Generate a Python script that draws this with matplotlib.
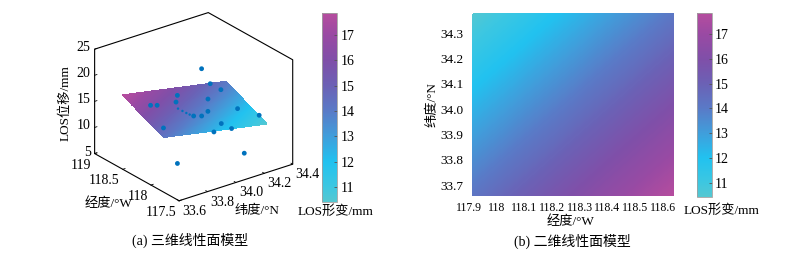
import numpy as np
import matplotlib
matplotlib.use('Agg')
import matplotlib.pyplot as plt
import matplotlib.transforms as mtransforms
from matplotlib.colors import LinearSegmentedColormap, Normalize
from matplotlib.cm import ScalarMappable
from mpl_toolkits.mplot3d import proj3d

plt.rcParams['font.family'] = ['Liberation Serif', 'Noto Sans CJK SC']
plt.rcParams['axes.unicode_minus'] = False

# ---------------- data ----------------
# linear surface model, corner values (rows: lat min, lat max; cols: lon min, lon max)
lon_edges = [117.915, 118.64]
lat_edges = [33.657, 34.38]
los_grid = [[14.20, 17.85],
            [10.43, 14.10]]

# observation points (3D)
pt_lat = [34.118, 34.239, 34.269, 33.964, 33.915, 34.132, 33.737, 33.778, 34.057, 34.258,
          33.940, 33.990, 34.336, 33.680, 34.066, 34.147, 34.017, 34.235, 33.773]
pt_lon = [118.407, 118.559, 118.445, 118.449, 118.349, 118.329, 118.352, 118.339, 118.141, 118.121,
          118.099, 118.083, 117.934, 117.979, 117.926, 117.948, 117.933, 117.944, 117.966]
pt_los = [20.29, 15.44, 14.72, 16.28, 16.03, 14.83, 16.95, 16.67, 14.26, 13.14,
          14.65, 14.31, 12.31, 15.36, 13.14, 11.34, 11.92, 5.87, 7.82]
# partly hidden points
sm_lat = [33.910, 33.923, 33.935, 33.946]
sm_lon = [118.301, 118.255, 118.216, 118.185]
sm_los = [15.11, 14.82, 14.56, 14.35]

# axes ranges / ticks
lat_lim = [33.6, 34.4]
lon_lim = [117.5, 119.0]
z_lim = [5, 25]
lat_ticks3 = [33.6, 33.8, 34.0, 34.2, 34.4]
lat_ticklabels3 = ['33.6', '33.8', '34.0', '34.2', '34.4']
lon_ticks3 = [117.5, 118.0, 118.5, 119.0]
lon_ticklabels3 = ['117.5', '118', '118.5', '119']
z_ticks3 = [5, 10, 15, 20, 25]

lon_ticks2 = [117.9, 118.0, 118.1, 118.2, 118.3, 118.4, 118.5, 118.6]
lon_ticklabels2 = ['117.9', '118', '118.1', '118.2', '118.3', '118.4', '118.5', '118.6']
lat_ticks2 = [33.7, 33.8, 33.9, 34.0, 34.1, 34.2, 34.3]
lat_ticklabels2 = ['33.7', '33.8', '33.9', '34.0', '34.1', '34.2', '34.3']

cbar_ticks = [11, 12, 13, 14, 15, 16, 17]
c_lim = [10.43, 17.85]

# colormap stops (value, colour)
cmap_vals = [10.43, 11.0, 12.0, 13.0, 14.0, 15.0, 16.0, 17.0, 17.85]
cmap_cols = [(0.33, 0.78, 0.82), (0.24, 0.78, 0.88), (0.13, 0.76, 0.94),
             (0.25, 0.62, 0.86), (0.35, 0.48, 0.78), (0.42, 0.38, 0.71),
             (0.50, 0.31, 0.66), (0.60, 0.29, 0.64), (0.71, 0.30, 0.62)]

# ---------------- figure ----------------
W, H = 806, 254
DPI = 100
fig = plt.figure(figsize=(W / DPI, H / DPI), dpi=DPI)

pos = [(v - cmap_vals[0]) / (cmap_vals[-1] - cmap_vals[0]) for v in cmap_vals]
cmap = LinearSegmentedColormap.from_list('los', list(zip(pos, cmap_cols)), N=512)
norm = Normalize(vmin=c_lim[0], vmax=c_lim[1])
levels = np.linspace(c_lim[0] - 0.01, c_lim[1] + 0.01, 181)

LON, LAT = np.meshgrid(lon_edges, lat_edges)
Z = np.array(los_grid)

FS = 9
BLUE = '#0072BD'

# ---------- 3D panel ----------
side = 230
ax3 = fig.add_axes([80 / W, 0.05, side / W, side / H], projection='3d', computed_zorder=False)
ax3.set_proj_type('ortho')
ax3.view_init(elev=25.1, azim=-127.2)
ax3.set_box_aspect((1.0, 0.979, 0.808))
ax3.set_xlim(lat_lim)
ax3.set_ylim(lon_lim)
ax3.set_zlim(z_lim)
ax3.set_axis_off()

cs3 = ax3.contourf(LAT, LON, Z, levels=levels, cmap=cmap, norm=norm, zorder=1)
cs3.set_edgecolor('face')
cs3.set_linewidth(0.5)

# box outline (hexagon)
bx = [lat_lim[0], lat_lim[0], lat_lim[0], lat_lim[1], lat_lim[1], lat_lim[1], lat_lim[0]]
by = [lon_lim[0], lon_lim[1], lon_lim[1], lon_lim[1], lon_lim[0], lon_lim[0], lon_lim[0]]
bz = [z_lim[0], z_lim[0], z_lim[1], z_lim[1], z_lim[1], z_lim[0], z_lim[0]]
ax3.plot(bx, by, bz, color='black', lw=0.8, zorder=2, solid_joinstyle='miter')

# tick marks
dlat = 0.016
dlon = 0.03
for zt in z_ticks3:
    ax3.plot([lat_lim[0], lat_lim[0] + dlat], [lon_lim[1], lon_lim[1]], [zt, zt], color='black', lw=0.6, zorder=2)
for lt in lon_ticks3:
    ax3.plot([lat_lim[0], lat_lim[0] + dlat], [lt, lt], [z_lim[0], z_lim[0]], color='black', lw=0.6, zorder=2)
for at in lat_ticks3:
    ax3.plot([at, at], [lon_lim[0], lon_lim[0] + dlon], [z_lim[0], z_lim[0]], color='black', lw=0.6, zorder=2)

ax3.scatter(pt_lat, pt_lon, pt_los, s=12, c=BLUE, edgecolors='none', depthshade=False, zorder=3)
ax3.scatter(sm_lat, sm_lon, sm_los, s=3, c=BLUE, edgecolors='none', depthshade=False, zorder=3)

# ---- fit the projected box onto its place in the picture ----
fig.canvas.draw()
corners = np.array([[lat_lim[0], lon_lim[0], z_lim[0]],
                    [lat_lim[0], lon_lim[1], z_lim[0]],
                    [lat_lim[0], lon_lim[1], z_lim[1]],
                    [lat_lim[1], lon_lim[1], z_lim[1]],
                    [lat_lim[1], lon_lim[0], z_lim[1]],
                    [lat_lim[1], lon_lim[0], z_lim[0]]])
target_px = np.array([[179.3, 200.7], [94.7, 153.3], [94.7, 48.7],
                      [206.7, 13.3], [293.3, 60.0], [293.3, 164.0]])
target = np.column_stack([target_px[:, 0], H - target_px[:, 1]])
M = ax3.get_proj()
px, py, _ = proj3d.proj_transform(corners[:, 0], corners[:, 1], corners[:, 2], M)
cur = ax3.transData.transform(np.column_stack([px, py]))
mc, mt = cur.mean(axis=0), target.mean(axis=0)
s = np.sum((cur - mc) * (target - mt)) / np.sum((cur - mc) ** 2)
t = mt - s * mc
bb = ax3.get_position()
cx, cy = (bb.x0 + bb.width / 2) * W, (bb.y0 + bb.height / 2) * H
L = bb.width * W
ncx, ncy = s * cx + t[0], s * cy + t[1]
nL = s * L
ax3.set_position([(ncx - nL / 2) / W, (ncy - nL / 2) / H, nL / W, nL / H])
fig.canvas.draw()


def off(dx, dy):
    return mtransforms.offset_copy(ax3.transData, fig=fig, x=dx, y=dy, units='dots')


def label3d(a, b, c, text, dx, dy, **kw):
    # place a 2D text at the projected position of a 3D point
    xs, ys, _ = proj3d.proj_transform(np.array([a]), np.array([b]), np.array([c]), ax3.get_proj())
    ax3.text2D(xs[0], ys[0], text, transform=off(dx, dy), **kw)


TFS = 10
for zt in z_ticks3:
    label3d(lat_lim[0], lon_lim[1], zt, f'{zt:g}', -4, 1.5, ha='right', va='center', fontsize=TFS)
for lt, lab in zip(lon_ticks3, lon_ticklabels3):
    label3d(lat_lim[0], lt, z_lim[0], lab, -3, -5, ha='right', va='top', fontsize=TFS)
for at, lab in zip(lat_ticks3, lat_ticklabels3):
    label3d(at, lon_lim[0], z_lim[0], lab, 3, -4, ha='left', va='top', fontsize=TFS)

fig.text(65 / W, 1 - 103 / H, 'LOS位移/mm', rotation=90, ha='center', va='center', fontsize=FS + 0.5)
fig.text(108.5 / W, 1 - 204 / H, '经度/°W', ha='center', va='center', fontsize=FS + 0.5)
fig.text(257 / W, 1 - 211 / H, '纬度/°N', ha='center', va='center', fontsize=FS + 0.5)

sm = ScalarMappable(norm=norm, cmap=cmap)
cax1 = fig.add_axes([322.3 / W, 1 - 201.7 / H, 14.4 / W, 188.4 / H])
cb1 = fig.colorbar(sm, cax=cax1, ticks=cbar_ticks)
cb1.outline.set_edgecolor('#a0a0a0')
cb1.outline.set_linewidth(0.6)
cax1.tick_params(direction='in', length=2.5, width=0.6, labelsize=10, pad=3, color='#555555')
fig.text(335.2 / W, 1 - 212 / H, 'LOS形变/mm', ha='center', va='center', fontsize=FS + 0.5)
fig.text(190 / W, 1 - 240 / H, '(a) 三维线性面模型', ha='center', va='center', fontsize=FS + 1)

# ---------- 2D panel ----------
ax2 = fig.add_axes([469 / W, 1 - 196 / H, 205 / W, 183 / H])
cs2 = ax2.contourf(LON, LAT, Z, levels=levels, cmap=cmap, norm=norm)
cs2.set_edgecolor('face')
cs2.set_linewidth(0.4)
ax2.set_xlim(lon_edges)
ax2.set_ylim(lat_edges)
ax2.set_xticks(lon_ticks2)
ax2.set_xticklabels(lon_ticklabels2)
ax2.set_yticks(lat_ticks2)
ax2.set_yticklabels(lat_ticklabels2)
ax2.tick_params(axis='y', length=0, labelsize=9.5, pad=4)
ax2.tick_params(axis='x', length=0, labelsize=8.5, pad=4)
for sp in ax2.spines.values():
    sp.set_visible(False)
ax2.text(0.493, -0.14, '经度/°W', transform=ax2.transAxes, ha='center', va='center', fontsize=FS + 0.5)
ax2.text(-0.177, 0.5, '纬度/°N', transform=ax2.transAxes, rotation=90, ha='center', va='center', fontsize=FS + 0.5)

cax2 = fig.add_axes([697 / W, 1 - 196.7 / H, 14.7 / W, 183.4 / H])
cb2 = fig.colorbar(sm, cax=cax2, ticks=cbar_ticks)
cb2.outline.set_edgecolor('#a0a0a0')
cb2.outline.set_linewidth(0.6)
cax2.tick_params(direction='in', length=2.5, width=0.6, labelsize=10, pad=2, color='#555555')
fig.text(721.3 / W, 1 - 211 / H, 'LOS形变/mm', ha='center', va='center', fontsize=FS + 0.5)
fig.text(572.5 / W, 1 - 241.7 / H, '(b) 二维线性面模型', ha='center', va='center', fontsize=FS + 1)

fig.savefig('out.png', dpi=DPI)
